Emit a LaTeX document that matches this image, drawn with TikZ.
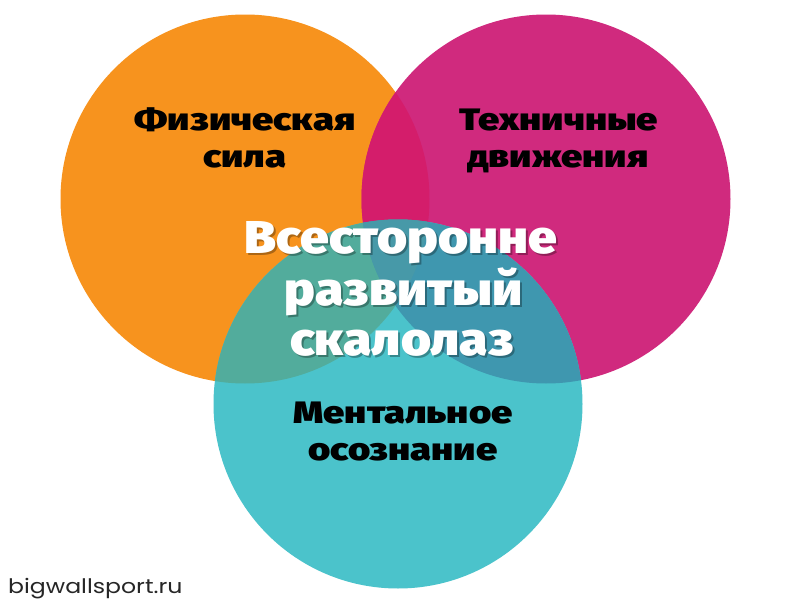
\documentclass[tikz,border=0pt]{standalone}
\usepackage{fontspec}
\setmainfont{Fira Sans}
\IfFontExistsTF{FiraSans-Black.otf}
  {\newfontfamily\heavy{FiraSans-Black.otf}[FakeStretch=1.12]
   \newfontfamily\heavyw{FiraSans-Black.otf}[FakeStretch=1.23]}
  {\IfFontExistsTF{Fira Sans Black}
    {\newfontfamily\heavy{Fira Sans Black}[FakeStretch=1.12]
     \newfontfamily\heavyw{Fira Sans Black}[FakeStretch=1.23]}
    {\newfontfamily\heavy{Fira Sans}[FakeStretch=1.12,FakeBold=3]
     \newfontfamily\heavyw{Fira Sans}[FakeStretch=1.23,FakeBold=3]}}
\newfontfamily\markfont{Poppins}[FakeStretch=1.18]
\definecolor{cOr}{HTML}{F7931E}
\definecolor{cMa}{HTML}{D02A7E}
\definecolor{cTe}{HTML}{4BC3CB}
\definecolor{cOM}{HTML}{D41D6B}
\definecolor{cOT}{HTML}{52AC9C}
\definecolor{cMT}{HTML}{3F97AF}
\definecolor{cOMT}{HTML}{4799A8}
\tikzset{
  lbl/.style={font=\heavyw\fontsize{31}{31}\selectfont, text=black, inner sep=0pt, anchor=base},
  big/.style={font=\heavy\fontsize{46}{46}\selectfont, text=white, inner sep=0pt, anchor=base},
  shad/.style={font=\heavy\fontsize{46}{46}\selectfont, text=black, text opacity=0.3, inner sep=0pt, anchor=base},
}
\begin{document}
\begin{tikzpicture}[x=1pt,y=-1pt]
\useasboundingbox (0,0) rectangle (807,605);
\fill[white] (0,0) rectangle (807,605);
\coordinate (O) at (245,199);
\coordinate (M) at (546,199);
\coordinate (T) at (398,404);
\def\R{184.5}
% base circles
\fill[cOr] (O) circle (\R);
\fill[cMa] (M) circle (\R);
\fill[cTe] (T) circle (\R);
% pairwise overlaps
\begin{scope}
  \clip (O) circle (\R);
  \fill[cOM] (M) circle (\R);
  \fill[cOT] (T) circle (\R);
\end{scope}
\begin{scope}
  \clip (M) circle (\R);
  \fill[cMT] (T) circle (\R);
\end{scope}
% triple overlap
\begin{scope}
  \clip (O) circle (\R);
  \clip (M) circle (\R);
  \fill[cOMT] (T) circle (\R);
\end{scope}
% labels
\node[lbl] (fiz1) at (245,130) {Физическая};
\node[lbl] (fiz2) at (245,167) {сила};
\node[lbl] (teh1) at (559,130) {Техничные};
\node[lbl] (teh2) at (558,167) {движения};
\node[lbl] (men1) at (403,423) {Ментальное};
\node[lbl] (men2) at (403,460) {осознание};
% center text shadow
\node[shad] (s1) at (403,255) {Всесторонне};
\node[shad] (s2) at (406,307) {развитый};
\node[shad] (s3) at (404,357) {скалолаз};
\node[big] (c1) at (401,253) {Всесторонне};
\node[big] (c2) at (404,305) {развитый};
\node[big] (c3) at (402,355) {скалолаз};
% watermark
\node[font=\markfont\fontsize{20}{20}\selectfont, text=black!85, inner sep=0pt, anchor=base west] (mark) at (8,593) {bigwallsport.ru};
\end{tikzpicture}
\end{document}
